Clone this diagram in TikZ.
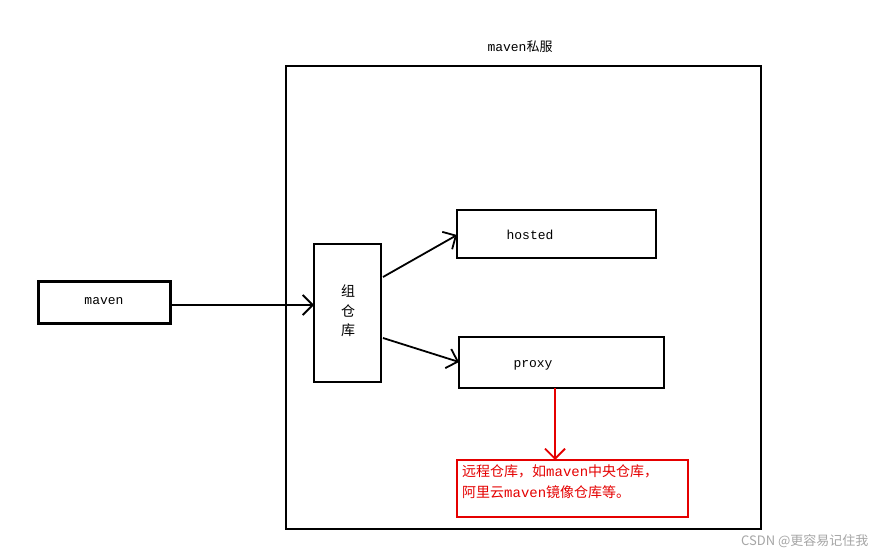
\documentclass[tikz,border=0pt]{standalone}
\usepackage{fontspec}
\setmainfont{Liberation Mono}
\newfontfamily\cjk{Noto Sans CJK SC}
\usetikzlibrary{arrows.meta}
\begin{document}
\begin{tikzpicture}[x=1pt,y=-1pt,
  box/.style={draw=black,line width=2pt},
  arr/.style={line width=1.8pt,-{Straight Barb[length=10pt,width=20pt]}},
  lbl/.style={font=\fontsize{13}{15}\selectfont}]
\useasboundingbox (0,0) rectangle (876,556);
\fill[white] (0,0) rectangle (876,556);
\node[lbl] (title) at (520,47) {maven{\cjk 私服}};
\draw[box] (286,66) rectangle (761,529);
\draw[draw=black,line width=3pt] (38,282) rectangle (170,323);
\node[lbl] (maven) at (104,301) {maven};
\coordinate (mr) at (170,305);
\draw[box] (314,244) rectangle (381,382);
\node[font=\cjk\fontsize{14}{19.5}\selectfont,align=center] (grp) at (348,311) {组\\仓\\库};
\coordinate (gl) at (314,305);
\coordinate (gt) at (383,277);
\coordinate (gb) at (383,338);
\draw[box] (457,210) rectangle (656,258);
\node[lbl] (hosted) at (530,235) {hosted};
\coordinate (hl) at (457,235);
\draw[box] (459,337) rectangle (664,388);
\node[lbl] (proxy) at (533,365) {proxy};
\coordinate (pl) at (459,362);
\coordinate (pb) at (555,388);
\draw[draw=red!90!black,line width=2pt] (457,460) rectangle (688,517);
\node[anchor=north west,align=left,text=red!90!black,font=\fontsize{14}{21}\selectfont,inner sep=0] (note) at (462,465)
  {{\cjk 远程仓库，如}maven{\cjk 中央仓库，}\\{\cjk 阿里云}maven{\cjk 镜像仓库等。}};
\coordinate (nt) at (555,460);
\draw[arr] (mr) -- (gl);
\draw[arr] (gt) -- (hl);
\draw[arr] (gb) -- (pl);
\draw[arr,draw=red!90!black] (pb) -- (nt);
\node[anchor=east,text=gray!70,font=\cjk\fontsize{13}{15}\selectfont] (wm) at (872,541) {CSDN @更容易记住我};
\end{tikzpicture}
\end{document}
